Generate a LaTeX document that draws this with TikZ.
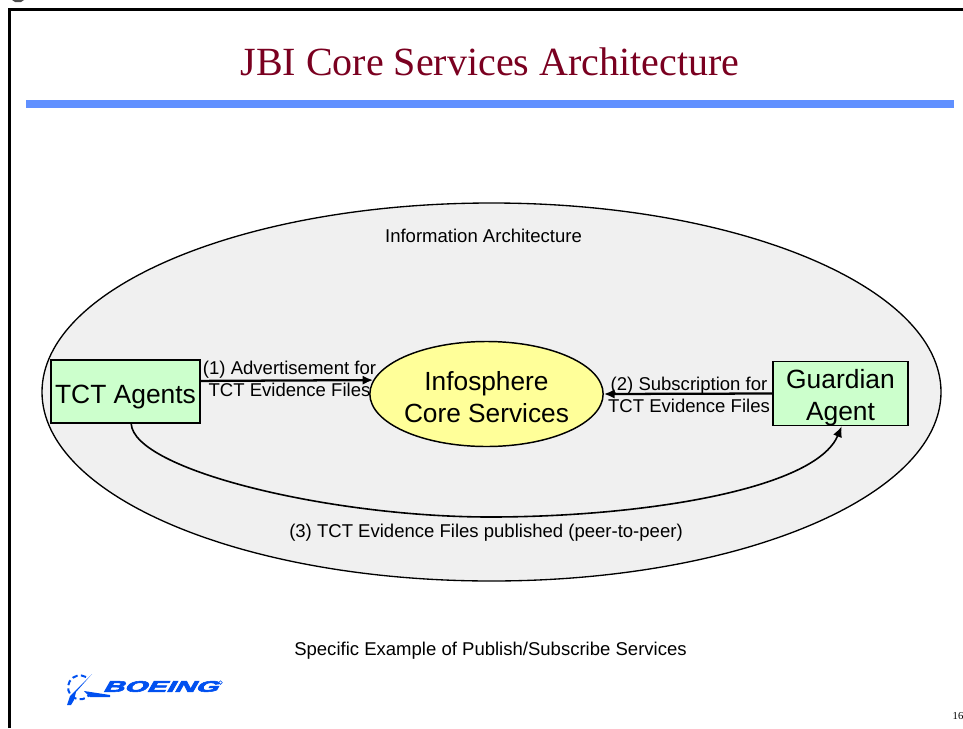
\documentclass[tikz,border=0pt]{standalone}
\usepackage{fontspec}
\setmainfont{Liberation Sans}
\newfontfamily\titlefont{Liberation Serif}
\newfontfamily\logofont[BoldFeatures={FakeBold=3.5,FakeSlant=0.3}]{Liberation Sans}
\usetikzlibrary{arrows.meta, calc, positioning, shapes.geometric}
\definecolor{slidered}{RGB}{122,0,32}
\definecolor{slideblue}{RGB}{96,144,255}
\definecolor{boeingblue}{RGB}{0,80,240}
\definecolor{agentgreen}{RGB}{204,255,204}
\definecolor{coreyellow}{RGB}{255,255,153}
\definecolor{archgray}{RGB}{240,240,240}
\newcommand{\dropline}[1]{\rule{0pt}{#1}}
\tikzset{
    agentbox/.style={draw=black, line width=1.2pt, fill=agentgreen, align=center, inner sep=0pt, font=\fontsize{19.8}{24}\selectfont},
    flowlabel/.style={align=center, inner sep=0pt, font=\fontsize{13.9}{16.4}\selectfont},
    flowarrow/.style={-{Latex[length=8pt,width=7pt]}, line width=1.7pt},
}
\begin{document}
\begin{tikzpicture}[x=0.75pt, y=-0.75pt]
    \useasboundingbox (0,0) rectangle (963,728);

    % Frame
    \draw[line width=2.4pt] (9.5,728) -- (9.5,9.5) -- (963,9.5);
    \fill[slideblue] (26,100) rectangle (954,108);
    \node[font=\titlefont\fontsize{30}{36}\selectfont, text=slidered] (title) at (490,62) {JBI Core Services Architecture};
    \fill[black!70] (12,0) -- (24,0) -- (21,2) -- (15,2) -- cycle;

    % Ellipses
    \node[ellipse, draw=black, line width=1pt, fill=archgray, minimum width=674.25pt, minimum height=283.5pt, inner sep=0pt] (arch) at (491.5,392) {};
    \node[ellipse, draw=black, line width=1.1pt, fill=coreyellow, minimum width=171.75pt, minimum height=78.75pt, inner sep=0pt, align=center, font=\fontsize{19.7}{24}\selectfont] (core) at (486.5,394) {\dropline{19pt}Infosphere\\Core Services};

    % Agents
    \node[agentbox, minimum width=111.75pt, minimum height=47.25pt] (tct) at (125.5,391.5) {\dropline{22pt}TCT Agents};
    \node[agentbox, minimum width=101.25pt, minimum height=48pt] (guardian) at (840.5,393.5) {\dropline{20pt}Guardian\\Agent};

    % Labels
    \node[flowlabel] (archlabel) at (483.5,236) {Information Architecture};
    \node[flowlabel] (advlabel) at (289.5,379) {(1) Advertisement for\\TCT Evidence Files};
    \node[flowlabel] (sublabel) at (689,395) {(2) Subscription for\\TCT Evidence Files};
    \node[flowlabel] (publabel) at (486,533) {(3) TCT Evidence Files published (peer-to-peer)};
    \node[flowlabel] (example) at (490.5,651) {Specific Example of Publish/Subscribe Services};
    \node[font=\titlefont\fontsize{8}{10}\selectfont] (pagenum) at (958,716) {16};

    % Flows
    \draw[flowarrow] (tct.8.8) -- (core.173);
    \draw[flowarrow] (guardian.west) -- (core.east);
    \coordinate (pubmid) at (490,517);
    \draw[flowarrow, line width=1.2pt] (tct.-80) .. controls (134,470) and (330,517) .. (pubmid)
        .. controls (640,517) and (815,490) .. (guardian.-88);

    % Logo
    \draw[boeingblue, line width=1.5pt, dash pattern=on 4pt off 2.5pt] (86,677) arc (60:320:9pt);
    \fill[boeingblue] (92,674) -- (76,692) -- (74,700) -- (71,705) -- (67,705) -- (70,696) -- cycle;
    \fill[boeingblue] (84,691) -- (110,695) -- (110,697) -- (90,697) -- cycle;
    \node[font=\logofont\bfseries\fontsize{11.5}{12}\selectfont, text=boeingblue, xscale=1.9, inner sep=0pt] (boeing) at (160,686.5) {BOEING};
    \draw[boeingblue, line width=0.4pt] (220.5,682.5) circle (1.4pt);
\end{tikzpicture}
\end{document}
